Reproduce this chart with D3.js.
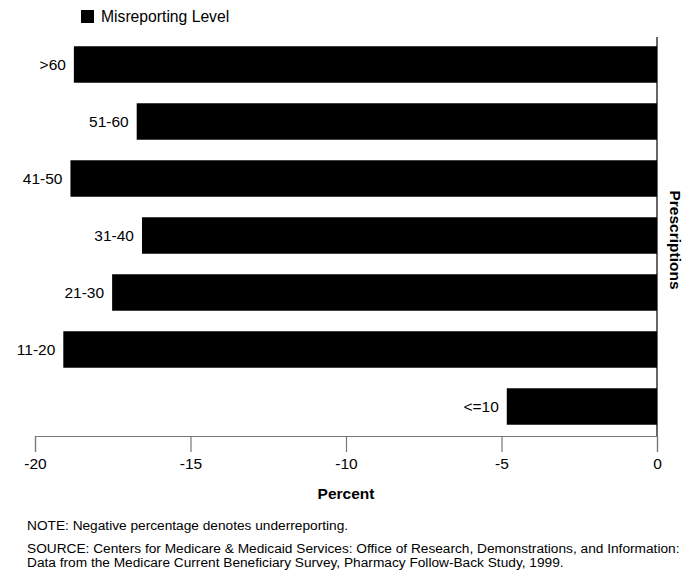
<!DOCTYPE html>
<html><head><meta charset="utf-8">
<script src="https://cdn.jsdelivr.net/npm/d3@7"></script>
<style>
html,body{margin:0;padding:0;background:#fff;}
svg{display:block;}
text{font-family:"Liberation Sans",Arial,Helvetica,sans-serif;fill:#000;}
</style></head>
<body>
<svg id="chart" width="693" height="582"></svg>
<script>
const categories = [">60","51-60","41-50","31-40","21-30","11-20","<=10"];
const values = [-18.75,-16.73,-18.86,-16.56,-17.52,-19.09,-4.83];
const xTicks = [-20,-15,-10,-5,0];
const legendLabel = "Misreporting Level";
const xTitle = "Percent";
const yTitle = "Prescriptions";
const notes = [
  "NOTE: Negative percentage denotes underreporting.",
  "SOURCE: Centers for Medicare & Medicaid Services: Office of Research, Demonstrations, and Information:",
  "Data from the Medicare Current Beneficiary Survey, Pharmacy Follow-Back Study, 1999."
];

const svg = d3.select("#chart");
const x = d3.scaleLinear().domain([-20,0]).range([35,657]);
const y = d3.scaleBand().domain(categories).range([36,435]).paddingInner(0.36).paddingOuter(0.18);

// bars
svg.append("g").selectAll("rect").data(categories).join("rect")
  .attr("x",(d,i)=>x(values[i]))
  .attr("y",d=>y(d))
  .attr("width",(d,i)=>x(0)-x(values[i]))
  .attr("height",y.bandwidth())
  .attr("fill","#000");

// category labels
svg.append("g").selectAll("text").data(categories).join("text")
  .attr("x",(d,i)=>x(values[i])-8)
  .attr("y",d=>y(d)+y.bandwidth()/2)
  .attr("dy","0.35em")
  .attr("text-anchor","end")
  .style("font-size","15.5px")
  .text(d=>d);

// x axis
const xAxis = d3.axisBottom(x).tickValues(xTicks).tickSize(16).tickPadding(6).tickFormat(d=>String(d));
const gx = svg.append("g").attr("transform","translate(0,436)").call(xAxis);
gx.select(".domain").attr("stroke","#777").attr("stroke-width",1.2);
gx.selectAll(".tick line").attr("stroke","#777").attr("stroke-width",1.2);
gx.selectAll(".tick text").style("font-size","15.5px").style("font-family","'Liberation Sans',Arial,sans-serif").attr("fill","#000");

// vertical zero line
svg.append("line").attr("x1",x(0)).attr("x2",x(0)).attr("y1",37).attr("y2",436)
  .attr("stroke","#000").attr("stroke-width",1.2);

// axis titles
svg.append("text").attr("x",346).attr("y",499).attr("text-anchor","middle")
  .style("font-size","15.5px").style("font-weight","bold").text(xTitle);
svg.append("text").attr("transform","translate(670,240) rotate(90)").attr("text-anchor","middle")
  .style("font-size","15.5px").style("font-weight","bold").text(yTitle);

// legend
svg.append("rect").attr("x",81).attr("y",10).attr("width",13).attr("height",13).attr("fill","#000");
svg.append("text").attr("x",101).attr("y",22).style("font-size","15.7px").text(legendLabel);

// notes
const noteY = [530,553,567];
svg.append("g").selectAll("text").data(notes).join("text")
  .attr("x",27).attr("y",(d,i)=>noteY[i])
  .style("font-size","13.7px").text(d=>d);
</script>
</body></html>
